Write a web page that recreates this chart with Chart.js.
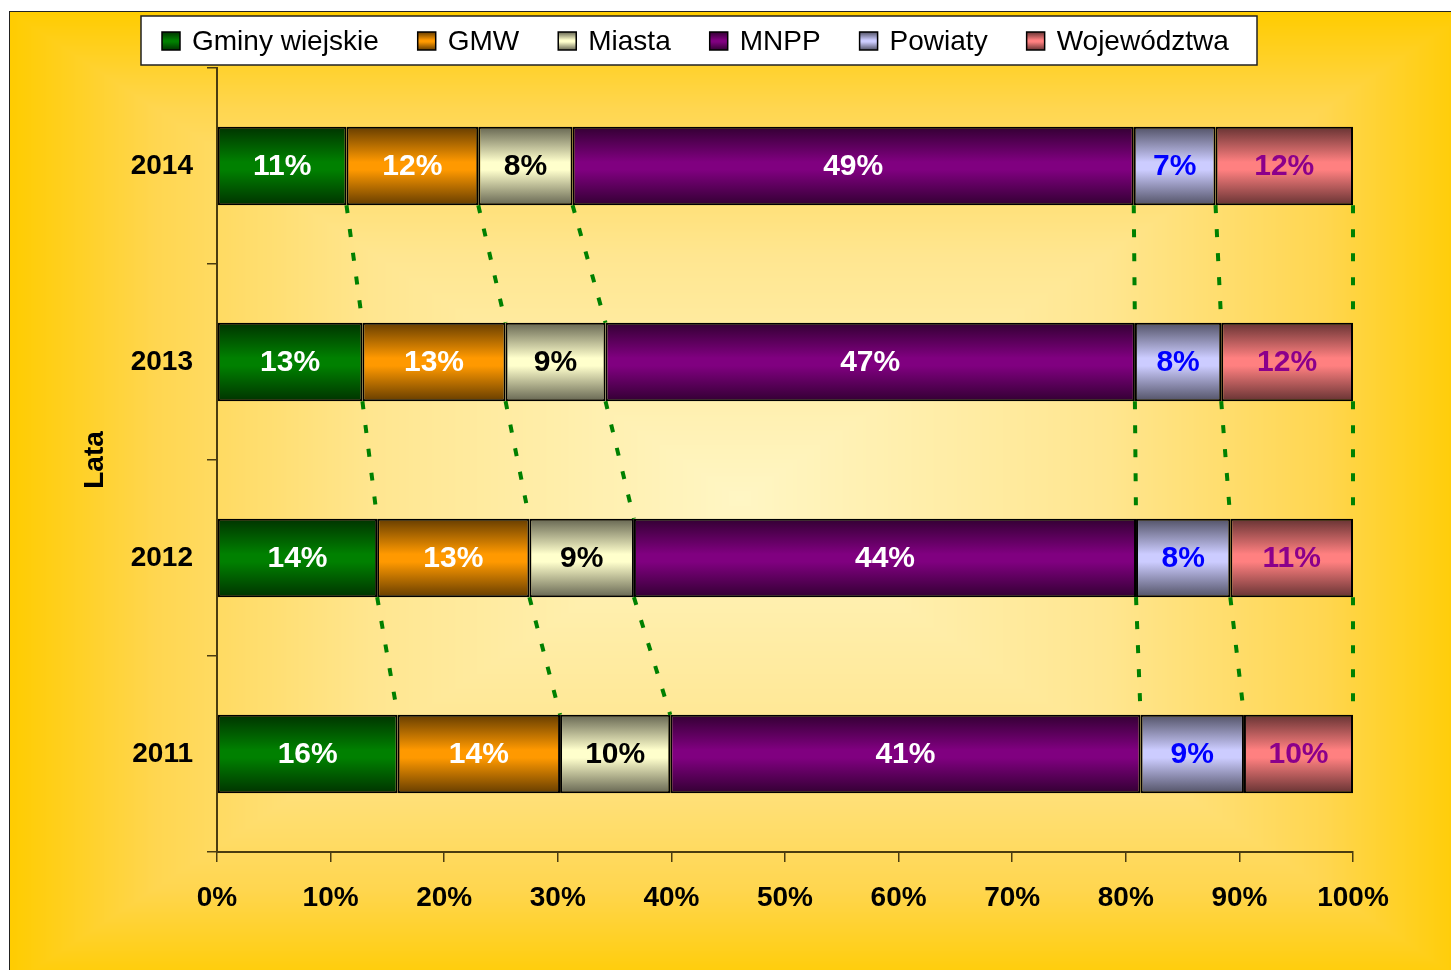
<!DOCTYPE html>
<html>
<head>
<meta charset="utf-8">
<script src="https://cdn.jsdelivr.net/npm/chart.js@4.4.1/dist/chart.umd.min.js"></script>
<style>
  body { margin: 0; background: #fff; }
  canvas { display: block; }
</style>
</head>
<body>
<canvas id="chartCanvas" width="1451" height="970"></canvas>
<script>
// values, in percent of each year's total
var years = ['2014', '2013', '2012', '2011'];
var gminyWiejskie = [11.4, 12.8, 14.1, 15.9];
var gmw = [11.6, 12.6, 13.4, 14.3];
var miasta = [8.3, 8.8, 9.2, 9.7];
var mnpp = [49.4, 46.6, 44.2, 41.4];
var powiaty = [7.2, 7.6, 8.3, 9.1];
var wojewodztwa = [12.1, 11.6, 10.8, 9.6];
var seriesNames = ['Gminy wiejskie', 'GMW', 'Miasta', 'MNPP', 'Powiaty', 'Województwa'];
var xTicks = [0, 10, 20, 30, 40, 50, 60, 70, 80, 90, 100];

var baseColors = ['#008000', '#FF9900', '#FFFFCC', '#800080', '#CCCCFF', '#FF8080'];
var labelColors = ['#FFFFFF', '#FFFFFF', '#000000', '#FFFFFF', '#0000FF', '#8B008B'];
var FONT = '"Liberation Sans", Arial, sans-serif';

function darken(hex, f) {
    var n = parseInt(hex.slice(1), 16);
    var r = Math.round(((n >> 16) & 255) * f);
    var g = Math.round(((n >> 8) & 255) * f);
    var b = Math.round((n & 255) * f);
    return 'rgb(' + r + ',' + g + ',' + b + ')';
}

function barGradient(ctx, color, top, bottom) {
    var g = ctx.createLinearGradient(0, top, 0, bottom);
    var dark = darken(color, 0.4);
    g.addColorStop(0, dark);
    g.addColorStop(0.45, color);
    g.addColorStop(0.55, color);
    g.addColorStop(1, dark);
    return g;
}

// scriptable fill: vertical shading across each bar
function barFill(context) {
    var chart = context.chart;
    var color = baseColors[context.datasetIndex];
    var yScale = chart.scales.y;
    if (!chart.chartArea || !yScale) return color;
    var center = yScale.getPixelForValue(context.dataIndex);
    var half = (yScale.height / years.length) * 0.4 / 2;
    return barGradient(chart.ctx, color, center - half, center + half);
}

// rectangular "from center" background
var bgImage = null;
function makeBackground(w, h) {
    var img = new ImageData(w, h);
    var x0 = 9, y0 = 11, x1 = 1470, y1 = 985;
    var cx = (x0 + x1) / 2, cy = (y0 + y1) / 2;
    var hw = (x1 - x0) / 2, hh = (y1 - y0) / 2;
    var stops = [[0, [255, 246, 196]], [0.5, [255, 230, 144]], [0.8, [255, 214, 80]], [1, [255, 204, 0]]];
    for (var y = 0; y < h; y++) {
        for (var x = 0; x < w; x++) {
            var i = (y * w + x) * 4;
            if (x < x0 || y < y0) {
                img.data[i] = 255; img.data[i + 1] = 255; img.data[i + 2] = 255; img.data[i + 3] = 255;
                continue;
            }
            var t = Math.max(Math.abs(x - cx) / hw, Math.abs(y - cy) / hh);
            if (t > 1) t = 1;
            var k = 0;
            while (k < stops.length - 2 && t > stops[k + 1][0]) k++;
            var a = stops[k], b = stops[k + 1];
            var f = (t - a[0]) / (b[0] - a[0]);
            img.data[i] = a[1][0] + (b[1][0] - a[1][0]) * f;
            img.data[i + 1] = a[1][1] + (b[1][1] - a[1][1]) * f;
            img.data[i + 2] = a[1][2] + (b[1][2] - a[1][2]) * f;
            img.data[i + 3] = 255;
        }
    }
    return img;
}

var backgroundPlugin = {
    id: 'background',
    beforeDraw: function(chart) {
        var ctx = chart.ctx;
        if (!bgImage) bgImage = makeBackground(chart.width, chart.height);
        ctx.putImageData(bgImage, 0, 0);
        ctx.save();
        ctx.strokeStyle = '#222';
        ctx.lineWidth = 1;
        ctx.strokeRect(9.5, 11.5, chart.width + 20, chart.height + 20);
        ctx.restore();
    }
};

// dotted series lines between neighbouring bars
var seriesLinesPlugin = {
    id: 'seriesLines',
    afterDatasetsDraw: function(chart) {
        var ctx = chart.ctx;
        ctx.save();
        ctx.strokeStyle = '#008000';
        ctx.lineWidth = 4;
        ctx.setLineDash([8, 16]);
        chart.data.datasets.forEach(function(ds, k) {
            var bars = chart.getDatasetMeta(k).data;
            for (var i = 0; i < bars.length - 1; i++) {
                var upper = bars[i], lower = bars[i + 1];
                ctx.beginPath();
                ctx.moveTo(upper.x, upper.y + upper.height / 2);
                ctx.lineTo(lower.x, lower.y - lower.height / 2);
                ctx.stroke();
            }
        });
        ctx.restore();
    }
};

// percentage labels inside the bars
var barLabelsPlugin = {
    id: 'barLabels',
    afterDatasetsDraw: function(chart) {
        var ctx = chart.ctx;
        ctx.save();
        ctx.font = 'bold 30px ' + FONT;
        ctx.textAlign = 'center';
        ctx.textBaseline = 'middle';
        chart.data.datasets.forEach(function(ds, k) {
            ctx.fillStyle = labelColors[k];
            chart.getDatasetMeta(k).data.forEach(function(bar, i) {
                ctx.fillText(Math.round(ds.data[i]) + '%', (bar.x + bar.base) / 2, bar.y + 1);
            });
        });
        ctx.restore();
    }
};

// boxed legend across the top
var legendPlugin = {
    id: 'boxLegend',
    afterDraw: function(chart) {
        var ctx = chart.ctx;
        ctx.save();
        ctx.fillStyle = '#FFFFFF';
        ctx.fillRect(141, 16, 1116, 49);
        ctx.strokeStyle = '#222';
        ctx.lineWidth = 1.5;
        ctx.strokeRect(141, 16, 1116, 49);
        ctx.font = '28px ' + FONT;
        ctx.textBaseline = 'middle';
        var x = 162;
        chart.data.datasets.forEach(function(ds, k) {
            ctx.fillStyle = barGradient(ctx, baseColors[k], 32, 50);
            ctx.fillRect(x, 32, 18, 18);
            ctx.strokeStyle = '#000';
            ctx.lineWidth = 1.5;
            ctx.strokeRect(x, 32, 18, 18);
            ctx.fillStyle = '#000';
            ctx.fillText(ds.label, x + 30, 42);
            x += 30 + ctx.measureText(ds.label).width + 39;
        });
        ctx.restore();
    }
};

var seriesValues = [gminyWiejskie, gmw, miasta, mnpp, powiaty, wojewodztwa];
var datasets = seriesNames.map(function(name, k) {
    return {
        label: name,
        data: seriesValues[k],
        backgroundColor: barFill,
        borderColor: '#000000',
        borderWidth: 2,
        borderSkipped: false,
        barPercentage: 0.4,
        categoryPercentage: 1.0
    };
});

var axisColor = '#4a3c10';
var ctx = document.getElementById('chartCanvas').getContext('2d');
var chart = new Chart(ctx, {
    type: 'bar',
    data: { labels: years, datasets: datasets },
    options: {
        indexAxis: 'y',
        responsive: false,
        animation: false,
        devicePixelRatio: 1,
        layout: { padding: { top: 68, right: 98, left: 0, bottom: 0 } },
        plugins: { legend: { display: false }, tooltip: { enabled: false } },
        scales: {
            x: {
                stacked: true,
                min: 0,
                max: 100,
                afterBuildTicks: function(scale) {
                    scale.ticks = xTicks.map(function(v) { return { value: v }; });
                },
                afterFit: function(scale) { scale.height = 118; },
                ticks: {
                    callback: function(v) { return v + '%'; },
                    color: '#000',
                    padding: 19,
                    font: { family: FONT, size: 28, weight: 'bold' }
                },
                grid: { drawOnChartArea: false, drawTicks: true, tickLength: 10, color: axisColor, lineWidth: 1.5 },
                border: { display: true, color: axisColor, width: 2 }
            },
            y: {
                stacked: true,
                afterFit: function(scale) { scale.width = 217; },
                ticks: {
                    color: '#000',
                    padding: 14,
                    font: { family: FONT, size: 28, weight: 'bold' }
                },
                grid: { offset: true, drawOnChartArea: false, drawTicks: true, tickLength: 10, color: axisColor, lineWidth: 1.5 },
                border: { display: true, color: axisColor, width: 2 },
                title: {
                    display: true,
                    text: 'Lata',
                    color: '#000',
                    padding: { top: 78, bottom: 0 },
                    font: { family: FONT, size: 28, weight: 'bold' }
                }
            }
        }
    },
    plugins: [backgroundPlugin, seriesLinesPlugin, barLabelsPlugin, legendPlugin]
});
</script>
</body>
</html>
